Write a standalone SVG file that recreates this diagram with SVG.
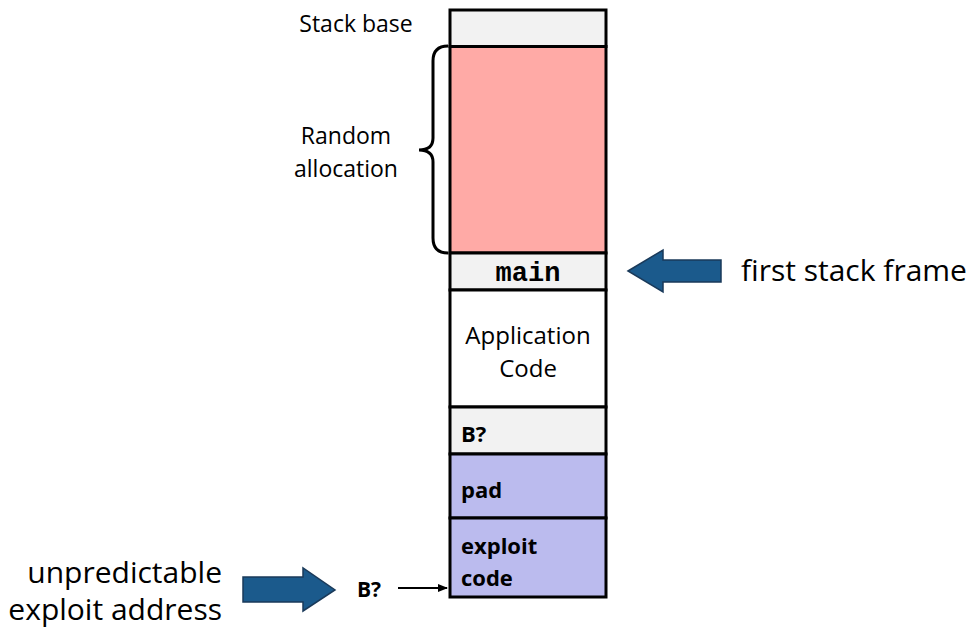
<svg xmlns="http://www.w3.org/2000/svg" width="972" height="631" viewBox="0 0 972 631">
<defs>
<style>
.box{stroke:#000;stroke-width:3}
.t{font-family:"Open Sans","Noto Sans",sans-serif;fill:#000}
.b{font-weight:bold}
.m{font-family:"Liberation Mono","Courier New",monospace;font-weight:bold}
.big{stroke:#1a3a5a;stroke-width:1.5;fill:#1b5a8c}
</style>
<marker id="ah" markerWidth="10" markerHeight="8" refX="9" refY="4" orient="auto" markerUnits="userSpaceOnUse">
<path d="M0,0 L10,4 L0,8 Z" fill="#000"/>
</marker>
</defs>
<rect width="972" height="631" fill="#fff"/>
<g id="stack-base"><rect class="box" x="450" y="10" width="156" height="36.5" fill="#f2f2f2"/></g>
<g id="random"><rect class="box" x="450" y="46.5" width="156" height="206.5" fill="#ffaaa6"/></g>
<g id="main"><rect class="box" x="450" y="253" width="156" height="37" fill="#f2f2f2"/>
<text class="m" x="528" y="281" text-anchor="middle" font-size="27">main</text></g>
<g id="app"><rect class="box" x="450" y="290" width="156" height="117" fill="#fff"/>
<text class="t" x="528" y="344" text-anchor="middle" font-size="24">Application</text>
<text class="t" x="528" y="377" text-anchor="middle" font-size="24">Code</text></g>
<g id="b"><rect class="box" x="450" y="407" width="156" height="47" fill="#f2f2f2"/>
<text class="t b" x="461" y="442" font-size="22">B?</text></g>
<g id="pad"><rect class="box" x="450" y="454" width="156" height="64" fill="#bbbbee"/>
<text class="t b" x="461" y="498" font-size="22">pad</text></g>
<g id="exploit"><rect class="box" x="450" y="518" width="156" height="79" fill="#bbbbee"/>
<text class="t b" x="461" y="554" font-size="22">exploit</text>
<text class="t b" x="461" y="586" font-size="22">code</text></g>
<g id="labels">
<text class="t" x="356" y="32" text-anchor="middle" font-size="23">Stack base</text>
<text class="t" x="346" y="144" text-anchor="middle" font-size="23">Random</text>
<text class="t" x="346" y="177" text-anchor="middle" font-size="23">allocation</text>
<text class="t" x="741" y="281" font-size="30">first stack frame</text>
<text class="t" x="222" y="583" text-anchor="end" font-size="30">unpredictable</text>
<text class="t" x="222" y="620" text-anchor="end" font-size="30">exploit address</text>
<text class="t b" x="357" y="597" font-size="21">B?</text>
</g>
<g id="connectors">
<path d="M448,46 Q433,46 433,61 L433,138 Q433,150 419,150 Q433,150 433,162 L433,238 Q433,253 448,253" fill="none" stroke="#000" stroke-width="3"/>
<path class="big" d="M628,271 L663,250 L663,260 L721,260 L721,282 L663,282 L663,292 Z"/>
<path class="big" d="M243,577 L303,577 L303,568 L335,590 L303,611 L303,602 L243,602 Z"/>
<line x1="398" y1="588" x2="447" y2="588" stroke="#000" stroke-width="2" marker-end="url(#ah)"/>
</g>
</svg>
